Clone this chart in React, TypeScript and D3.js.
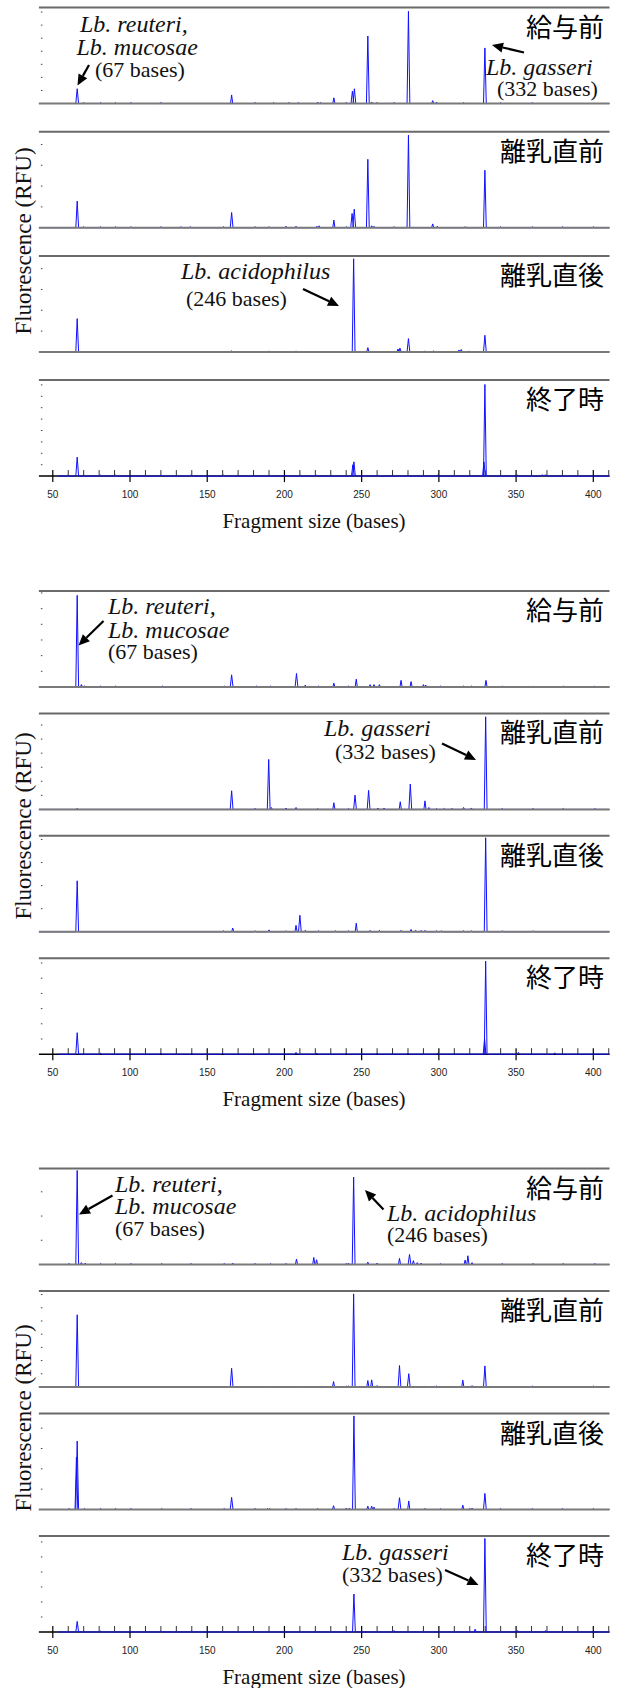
import React, { useEffect, useRef } from "react";
import * as d3 from "d3";

const width = 617;
const height = 1688;

const stageLabels = ["給与前", "離乳直前", "離乳直後", "終了時"];
const xTickValues = [50, 100, 150, 200, 250, 300, 350, 400];
const xMinorTickValues = [
  60, 70, 80, 90, 110, 120, 130, 140, 160, 170, 180, 190, 210, 220, 230, 240,
  260, 270, 280, 290, 310, 320, 330, 340, 360, 370, 380, 390, 410,
];

// peaks: [fragment size (bases), peak height in % of panel full scale]
const g1Feed = [
  [65.8, 15.5], [70, 1], [81, 1], [90.5, 1], [100.6, 1], [120, 1], [165.8, 9], [181, 1],
  [193, 1], [203, 1], [209, 1], [221.5, 1.5], [223.5, 1], [232, 6], [240, 1], [244, 13],
  [245.3, 15.5], [254, 71], [256.5, 1.5], [260, 1], [271, 1], [280.3, 97], [296, 3],
  [298.5, 1.5], [316, 1], [329.8, 58.5], [340, 1], [360.5, 1],
];
const g1PreWean = [
  [65.8, 28], [70, 1], [81, 1], [90.5, 1], [100.6, 1], [120, 1], [133, 1], [139, 1],
  [160.5, 1], [165.8, 16], [181, 1], [190, 1], [201, 1.5], [207.5, 1.5], [221, 1.5],
  [222.5, 2], [232, 8], [240, 1], [243.8, 15], [245.2, 19.5], [254, 72], [256.5, 2],
  [258, 1.5], [271, 1], [280.3, 97.5], [296, 4], [299, 1.5], [317, 1], [329.8, 60.5],
  [340, 1], [360.5, 1], [380, 1], [400, 1],
];
const g1PostWean = [
  [65.8, 35], [165.8, 1], [190, 1], [207.5, 1], [244.8, 98], [254, 4.5], [273.5, 3],
  [274.8, 4], [280.3, 14], [291, 1], [296.5, 1], [313, 2], [314.5, 2.5], [319.5, 1],
  [329.8, 17.5],
];
const g1End = [
  [65.8, 20], [81, 1], [90.5, 1], [120, 1], [139, 1], [160.5, 1], [201, 1], [221, 1],
  [244.3, 12], [245, 15], [260, 1], [299, 1], [329.2, 15], [329.8, 96.5], [351, 1],
  [367, 1.5], [369, 1.5],
];

const g2Feed = [
  [65.8, 96.5], [68.5, 2.5], [70.5, 1], [81, 1], [90.5, 1], [121, 1], [139.5, 1], [161, 1],
  [165.8, 12.8], [182, 1], [191, 1], [201, 1], [207.8, 14.2], [213.5, 2], [222, 1],
  [232, 4], [241.5, 1], [246.5, 8.2], [255.5, 2.5], [258, 2.5], [261.5, 2.5], [275.5, 7],
  [282, 5.7], [290, 2.5], [291.5, 2], [301, 1], [316, 1], [321, 1], [330.5, 7], [341, 1],
  [361, 1], [380.5, 1], [401, 1],
];
const g2PreWean = [
  [65.8, 1.2], [165.8, 19.6], [181, 1], [189.8, 52.6], [191.5, 2], [201, 1.5],
  [207.5, 2], [221.5, 1], [232, 7], [241.5, 1], [245.7, 15], [254.5, 20], [260.5, 1.5],
  [264.5, 1.5], [275, 8], [281.5, 26.7], [291, 9], [293.5, 2], [298.5, 1], [303.5, 1],
  [308.5, 1], [316, 2], [321, 1.5], [330.3, 97.5], [341, 1], [361, 1], [380.5, 1],
  [401, 1],
];
const g2PostWean = [
  [65.8, 53.7], [160.5, 1], [166.5, 4], [181, 1], [190, 2], [201, 1], [207.5, 6.8],
  [210, 17.4], [213.5, 1.5], [222, 1], [233, 1], [241.5, 1], [246.5, 9], [255.5, 1.5],
  [261.5, 1.5], [275.5, 1.5], [282, 2.5], [285, 1.5], [288.5, 1.5], [291, 1.5],
  [298.5, 1], [301.5, 1], [316, 1], [321, 1], [330.3, 99], [341, 1], [361, 1],
];
const g2End = [
  [65.8, 22.6], [81, 1], [100, 1], [120, 1], [140, 1], [160, 1], [180, 1], [207.5, 2],
  [221, 1], [240, 1], [260, 1], [280, 1], [299, 1], [329.6, 16], [330.3, 98],
  [351.5, 2], [375, 1.5],
];

const g3Feed = [
  [60.5, 1], [65.8, 99], [68.5, 2], [71, 1.5], [81, 1], [90.5, 1], [100.6, 1], [120.5, 1],
  [139.5, 1], [161, 1], [166.5, 1.5], [181, 1], [191, 1], [201, 1], [207.8, 5.7],
  [219, 7.4], [220.8, 5], [240, 1], [241.5, 1.5], [244.8, 92], [254, 2.5], [260, 1.5],
  [274.5, 6.4], [281, 10.6], [283.5, 4], [286, 2], [288.5, 1.5], [301, 1], [317, 4.6],
  [318.8, 9.2], [321.5, 2], [341, 1], [361, 1], [380.5, 1], [401, 1],
];
const g3PreWean = [
  [65.8, 76], [165.8, 19.7], [190, 1], [207.5, 1], [231.8, 5.7], [240, 1], [241.5, 1],
  [244.8, 98], [254, 6.8], [256.5, 7.5], [260, 1.5], [274.5, 22.6], [280.5, 14],
  [291, 1], [298.5, 1], [315.5, 7.2], [321.5, 1.5], [329.8, 22.2], [360.5, 1], [400, 1],
];
const g3PostWean = [
  [60.5, 1], [65.3, 55], [65.8, 72], [70.5, 1], [81, 1], [90.5, 1], [100.6, 1],
  [120.5, 1], [139.5, 1], [161, 1], [165.8, 12.8], [181, 1], [189, 1], [190.5, 1],
  [201, 1], [207.5, 1], [221.5, 1], [231.8, 4], [240, 1.5], [242, 1.5], [245, 98.5],
  [254, 3.5], [256.5, 3.5], [258, 2.5], [271, 1], [274.5, 12.4], [280.5, 9], [291, 1],
  [301, 1], [315.5, 4.6], [320, 1], [321.5, 1.5], [329.8, 17], [340, 1], [360.5, 1],
  [380, 1], [400, 1],
];
const g3End = [
  [65.8, 11.2], [81, 1], [100, 1], [120, 1], [140, 1], [180, 1], [245, 40], [271, 1.5],
  [323.5, 3], [329.8, 98.5], [351, 1.5], [369, 1.5],
];

// spacing of the small y ticks, in % of full scale
const g1TickSteps = [13.75, 21.9, 21.9, 12];
const g2TickSteps = [16.5, 14.8, 24.3, 16];
const g3TickSteps = [25.5, 13.9, 21.4, 15.8];

const reuteri = ["Lb. reuteri,", "Lb. mucosae", "(67 bases)"];
const gasseri = ["Lb. gasseri", "(332 bases)"];
const acidophilus = ["Lb. acidophilus", "(246 bases)"];

const groups = [
  {
    top: 7.5, step: 124.2, yLabel: 241,
    panels: [g1Feed, g1PreWean, g1PostWean, g1End], tickSteps: g1TickSteps,
    notes: [
      { panel: 0, text: reuteri, at: [[80, 24.5], [76.5, 47], [95, 69]], arrow: [[89, 57.5], [77.5, 78]] },
      { panel: 0, text: gasseri, at: [[486, 67], [497, 88]], arrow: [[524, 45], [492, 37.5]] },
      { panel: 2, text: acidophilus, at: [[181, 23.5], [186, 50]], arrow: [[303, 33], [339, 50]] },
    ],
  },
  {
    top: 591, step: 122.4, yLabel: 826,
    panels: [g2Feed, g2PreWean, g2PostWean, g2End], tickSteps: g2TickSteps,
    notes: [
      { panel: 0, text: reuteri, at: [[108, 22.5], [108, 47], [108, 68]], arrow: [[103.5, 30], [78.5, 54.5]] },
      { panel: 1, text: gasseri, at: [[324, 23], [335, 46]], arrow: [[442, 30], [476, 46.5]] },
    ],
  },
  {
    top: 1168.5, step: 122.5, yLabel: 1418,
    panels: [g3Feed, g3PreWean, g3PostWean, g3End], tickSteps: g3TickSteps,
    notes: [
      { panel: 0, text: reuteri, at: [[115, 23], [115, 45.5], [115, 67.5]], arrow: [[112.5, 27], [79, 46]] },
      { panel: 0, text: acidophilus, at: [[387, 52.5], [387, 73.5]], arrow: [[383.5, 41], [365, 21.5]] },
      { panel: 3, text: gasseri, at: [[342, 24], [342, 46]], arrow: [[445, 34], [478.5, 49]] },
    ],
  },
];

const panelH = 96;
const serif = "Liberation Serif, DejaVu Serif, serif";

function drawArrow(g, [x1, y1], [x2, y2]) {
  const a = Math.atan2(y2 - y1, x2 - x1);
  const len = 11;
  const half = 5;
  const bx = x2 - len * Math.cos(a);
  const by = y2 - len * Math.sin(a);
  g.append("line")
    .attr("x1", x1).attr("y1", y1).attr("x2", bx).attr("y2", by)
    .attr("stroke", "#000").attr("stroke-width", 2.2);
  g.append("path")
    .attr("d", `M${x2},${y2}L${bx + half * Math.sin(a)},${by - half * Math.cos(a)}L${bx - half * Math.sin(a)},${by + half * Math.cos(a)}Z`)
    .attr("fill", "#000");
}

function App() {
  const ref = useRef(null);

  useEffect(() => {
    const svg = d3.select(ref.current);
    svg.selectAll("*").remove();

    const x = d3.scaleLinear().domain([50, 400]).range([52.8, 593.3]);
    const left = x(41);
    const right = x(410.5);

    groups.forEach((grp) => {
      grp.panels.forEach((peaks, pi) => {
        const top = grp.top + pi * grp.step;
        const base = top + panelH;
        const isBottom = pi === 3;
        const y = d3.scaleLinear().domain([0, 100]).range([base, top + 1]);
        const g = svg.append("g");

        // small y ticks
        const step = grp.tickSteps[pi];
        g.selectAll(".ytick")
          .data(d3.range(step, 100, step))
          .join("line")
          .attr("x1", left + 2).attr("x2", left + 3.5)
          .attr("y1", (d) => y(d)).attr("y2", (d) => y(d))
          .attr("stroke", "#444").attr("stroke-width", 1);

        // trace
        const sorted = peaks.slice().sort((a, b) => a[0] - b[0]);
        const pts = [[isBottom ? 53.5 : 41, 0]];
        sorted.forEach(([b, h]) => {
          const w = h > 10 ? 0.9 : 0.7;
          pts.push([b - w, 0], [b, h], [b + w, 0]);
        });
        pts.push([410.5, 0]);
        const line = d3.line().x((d) => x(d[0])).y((d) => y(d[1]));

        if (isBottom) {
          g.append("line")
            .attr("x1", left).attr("x2", right).attr("y1", base).attr("y2", base)
            .attr("stroke", "#000").attr("stroke-width", 1.5);
          g.selectAll(".minor")
            .data(xMinorTickValues)
            .join("line")
            .attr("x1", (d) => x(d)).attr("x2", (d) => x(d))
            .attr("y1", base - 6).attr("y2", base)
            .attr("stroke", "#333").attr("stroke-width", 1);
          g.selectAll(".major")
            .data(xTickValues)
            .join("line")
            .attr("x1", (d) => x(d)).attr("x2", (d) => x(d))
            .attr("y1", base - 6).attr("y2", base + 6)
            .attr("stroke", "#000").attr("stroke-width", 1.2);
        }

        g.append("path")
          .attr("d", line(pts))
          .attr("fill", "none")
          .attr("stroke", "#1010ff")
          .attr("stroke-width", 1);

        g.append("line")
          .attr("x1", left).attr("x2", right).attr("y1", top).attr("y2", top)
          .attr("stroke", "#6a6a6a").attr("stroke-width", 2);
        if (!isBottom) {
          g.append("line")
            .attr("x1", left).attr("x2", right).attr("y1", base).attr("y2", base)
            .attr("stroke", "#7a7a7a").attr("stroke-width", 2);
        } else {
          g.selectAll(".xlab")
            .data(xTickValues)
            .join("text")
            .attr("x", (d) => x(d)).attr("y", base + 18)
            .attr("text-anchor", "middle").attr("dominant-baseline", "central")
            .style("font-family", "Liberation Sans, Arial, sans-serif")
            .style("font-size", "10px").attr("fill", "#222")
            .text((d) => d);
          g.append("text")
            .attr("x", 314).attr("y", base + 44.5)
            .attr("text-anchor", "middle").attr("dominant-baseline", "central")
            .style("font-family", serif).style("font-size", "21px").attr("fill", "#111")
            .text("Fragment size (bases)");
        }

        g.append("text")
          .attr("x", 604).attr("y", top + 29)
          .attr("text-anchor", "end")
          .style("font-family", "Noto Sans CJK JP, sans-serif")
          .style("font-size", "26px").attr("fill", "#000")
          .text(stageLabels[pi]);
      });

      svg.append("text")
        .attr("transform", `translate(23,${grp.yLabel}) rotate(-90)`)
        .attr("text-anchor", "middle").attr("dominant-baseline", "central")
        .style("font-family", serif).style("font-size", "23px").attr("fill", "#111")
        .text("Fluorescence (RFU)");

      grp.notes.forEach((n) => {
        const top = grp.top + n.panel * grp.step;
        const g = svg.append("g");
        n.text.forEach((t, i) => {
          const italic = t.startsWith("Lb.");
          g.append("text")
            .attr("x", n.at[i][0]).attr("y", top + n.at[i][1])
            .style("font-family", serif)
            .style("font-style", italic ? "italic" : "normal")
            .style("font-size", italic ? "24px" : "22px")
            .attr("fill", "#111")
            .text(t);
        });
        drawArrow(g, [n.arrow[0][0], top + n.arrow[0][1]], [n.arrow[1][0], top + n.arrow[1][1]]);
      });
    });
  }, []);

  return (
    <svg
      ref={ref}
      width={width}
      height={height}
      style={{ position: "absolute", left: 0, top: 0, background: "#fff" }}
    />
  );
}

export default App;
